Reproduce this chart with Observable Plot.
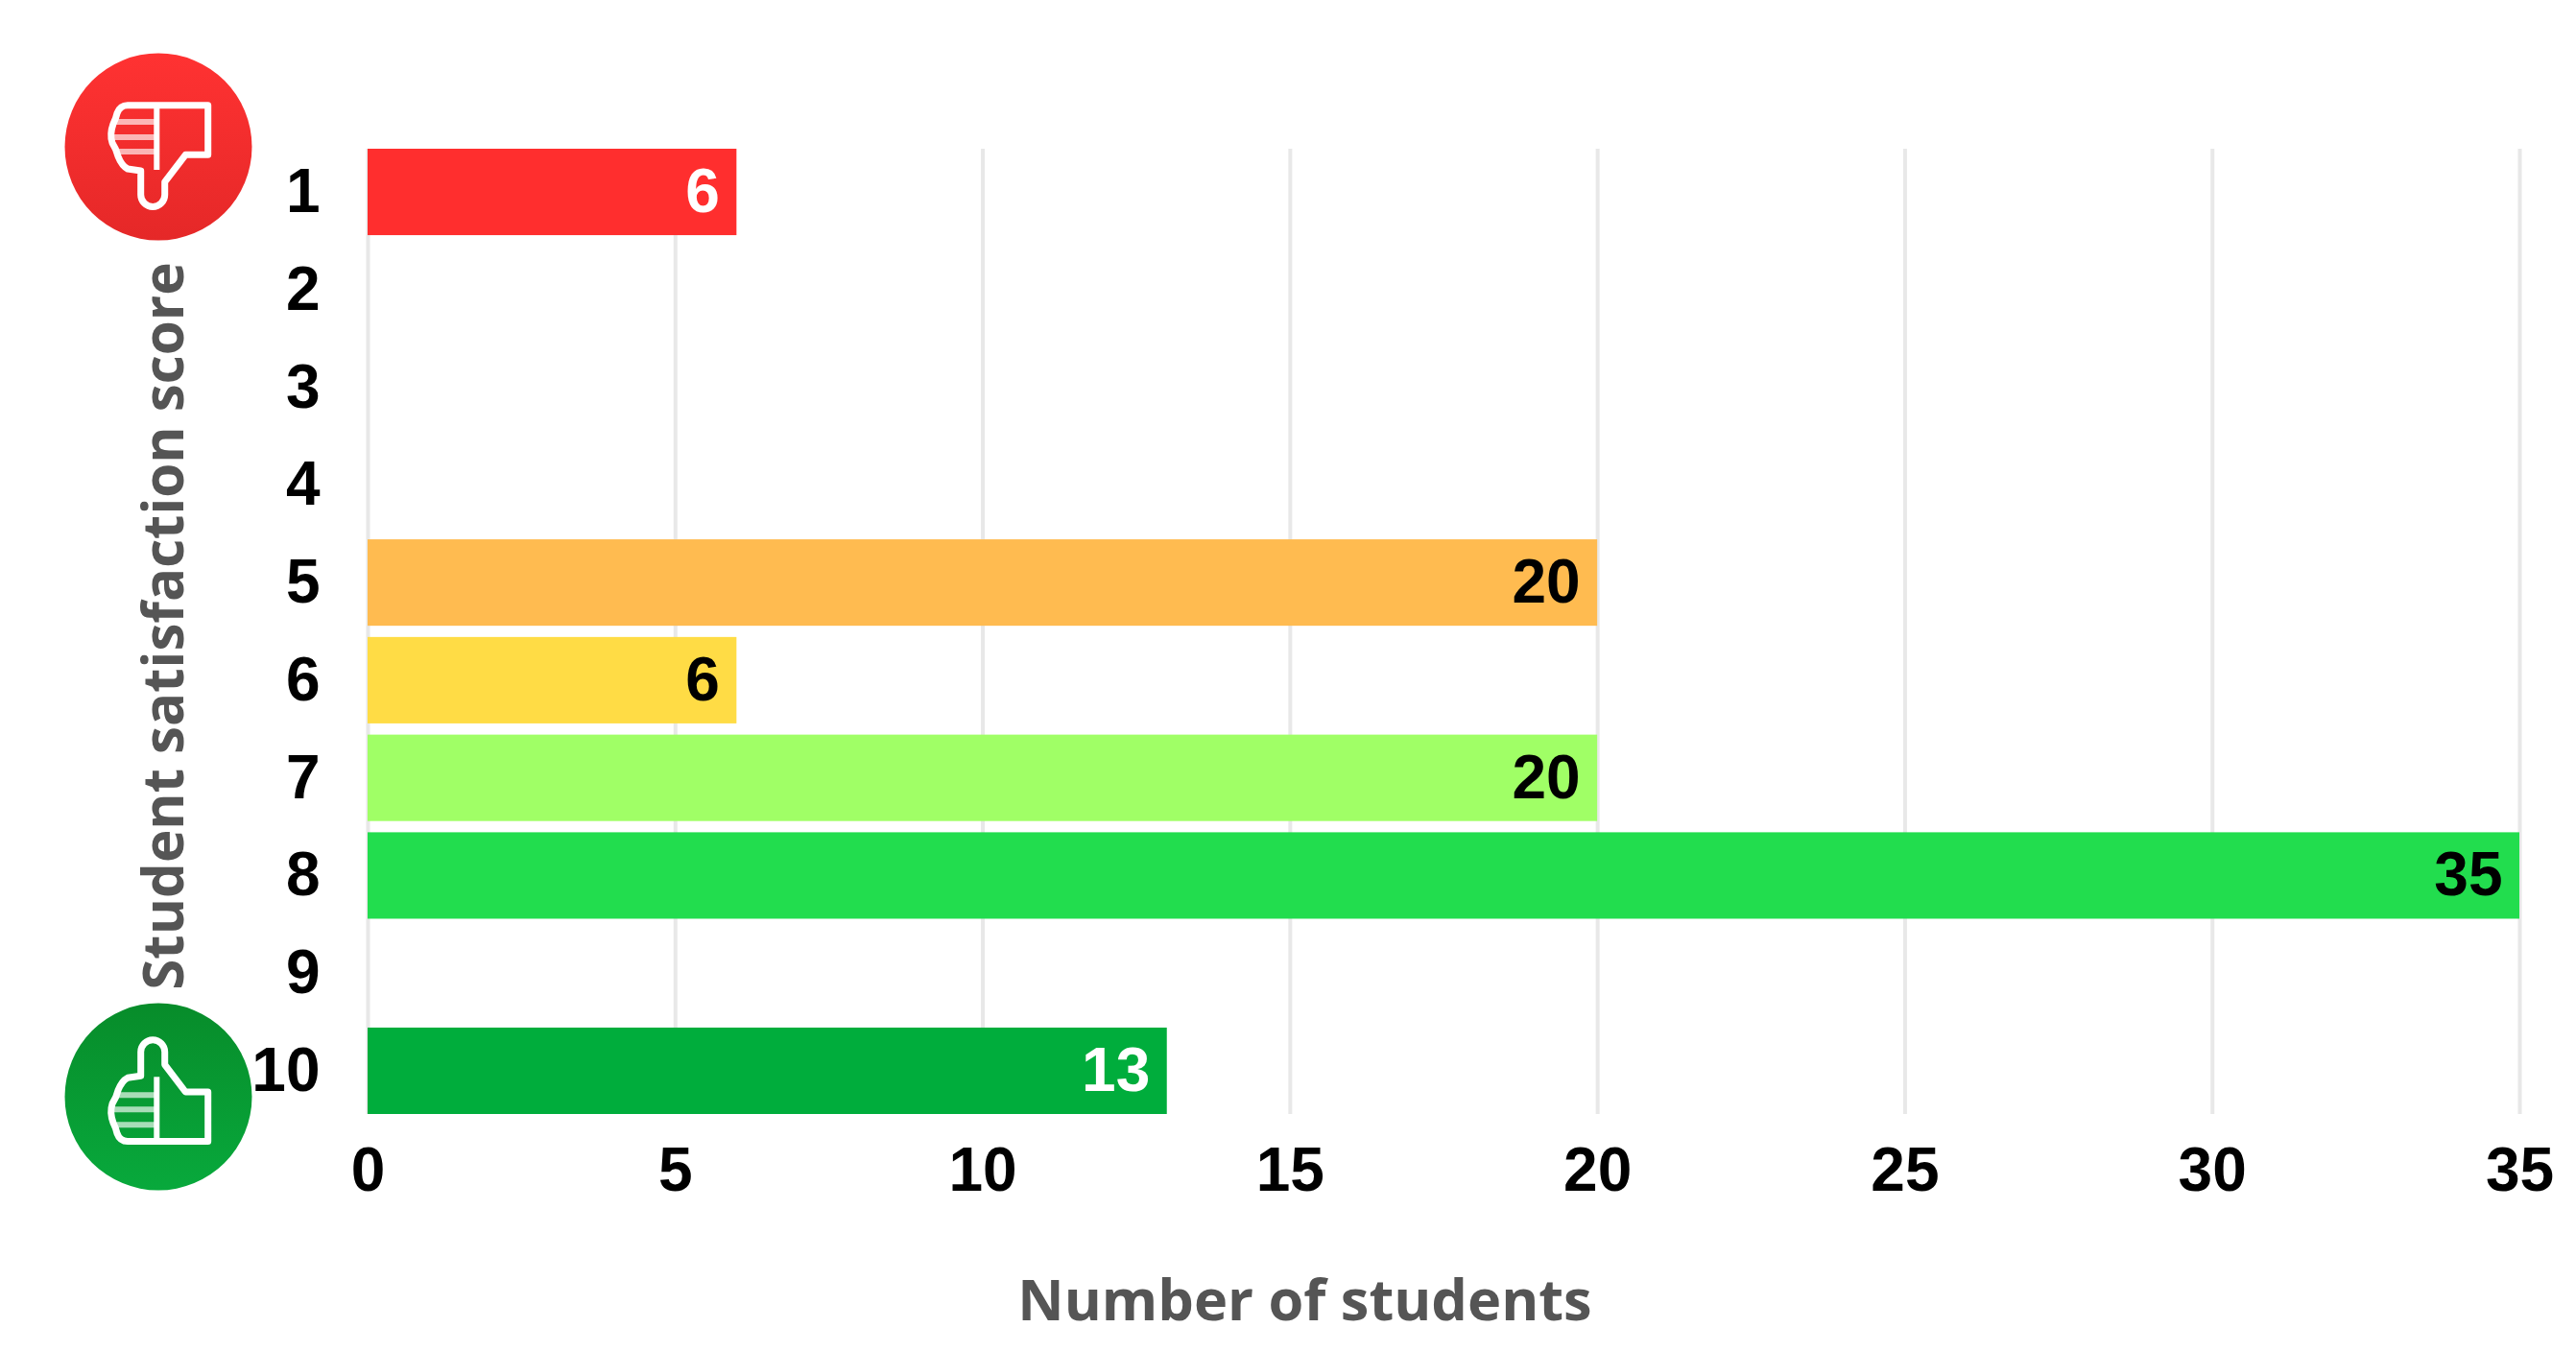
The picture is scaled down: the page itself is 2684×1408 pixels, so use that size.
<!DOCTYPE html>
<html>
<head>
<meta charset="utf-8">
<script src="https://cdn.jsdelivr.net/npm/d3@7"></script>
<script src="https://cdn.jsdelivr.net/npm/@observablehq/plot@0.6"></script>
<style>
html,body{margin:0;padding:0;background:#fff}
svg{display:block}
</style>
</head>
<body>
<div id="chart"></div>
<script>
const scores = ["1","2","3","4","5","6","7","8","9","10"];
const students = [6,0,0,0,20,6,20,35,0,13];
const barColors = ["#ff2e2e","#fff","#fff","#fff","#ffbb50","#ffdc45","#a0ff66","#22dd4e","#fff","#00ad3c"];
const valueColors = ["#fff","#000","#000","#000","#000","#000","#000","#000","#000","#fff"];
const xTicks = [0,5,10,15,20,25,30,35];
const xTitle = "Number of students";
const yTitle = "Student satisfaction score";

const rows = scores.map((score,i)=>({score,count:students[i],fill:barColors[i],text:valueColors[i]}));
const shown = rows.filter(d=>d.count>0);

const thumb = "M51.7,-43.3 L51.7,8.3 L28.3,8.3 L6.7,36.7 L6.7,50 A12.5,12.5 0 0 1 -18.3,50 L-18.3,25 L-32,23 Q-38,20 -42,10 Q-44,2 -48,-4 Q-51,-13 -47,-24 Q-44,-30 -43,-35 Q-40,-43.3 -32,-43.3 Z";
const icons = [
  {id:"gRed",cx:165,cy:153,top:"#ff3232",bottom:"#e52828",dy:0,flip:1},
  {id:"gGreen",cx:165,cy:1143,top:"#078c2a",bottom:"#08a93c",dy:3.3,flip:-1}
];
function iconMark(){
  const g = d3.create("svg:g");
  for(const ic of icons){
    const grad = g.append("linearGradient").attr("id",ic.id).attr("x1",0).attr("x2",0).attr("y1",0).attr("y2",1);
    grad.append("stop").attr("offset","0%").attr("stop-color",ic.top);
    grad.append("stop").attr("offset","100%").attr("stop-color",ic.bottom);
    g.append("circle").attr("cx",ic.cx).attr("cy",ic.cy).attr("r",97.5).attr("fill",`url(#${ic.id})`);
    const t = g.append("g").attr("transform",`translate(${ic.cx},${ic.cy+ic.dy}) scale(1,${ic.flip})`)
      .attr("fill","none").attr("stroke","#fff");
    t.append("path").attr("d",thumb).attr("stroke-width",7).attr("stroke-linejoin","round");
    t.append("path").attr("d","M-1.7,-43 L-1.7,24").attr("stroke-width",6);
    t.append("path").attr("d","M-44,-26 L-2,-26 M-47,-10 L-2,-10 M-44,5 L-2,5").attr("stroke-width",6).attr("stroke-opacity",0.65);
  }
  return g.node();
}

const plot = Plot.plot({
  width:2684,
  height:1408,
  marginTop:155,
  marginBottom:247,
  marginLeft:383,
  marginRight:59,
  style:{fontFamily:"'Liberation Sans',Arial,sans-serif",fontWeight:"bold",background:"#fff",overflow:"visible"},
  x:{domain:[0,35]},
  y:{domain:scores,paddingInner:0.115,paddingOuter:0,round:false},
  marks:[
    Plot.ruleX(xTicks,{stroke:"#e8e8e8",strokeWidth:4}),
    Plot.barX(shown,{x:"count",y:"score",fill:d=>d.fill}),
    Plot.text(shown,{x:"count",y:"score",text:d=>String(d.count),fill:d=>d.text,textAnchor:"end",dx:-18,dy:0,fontSize:64,fontWeight:"bold"}),
    Plot.axisX({ticks:xTicks,tickSize:0,tickPadding:34,label:null,fontSize:64,fontWeight:"bold",fill:"#000"}),
    Plot.axisY({tickSize:0,tickPadding:50,label:null,fontSize:64,fontWeight:"bold",fill:"#000"}),
    Plot.text([xTitle],{frameAnchor:"bottom",textAnchor:"middle",dx:-145,dy:214,fontSize:59.5,fontWeight:"bold",fontFamily:"'Open Sans',sans-serif",fill:"#555"}),
    Plot.text([yTitle],{frameAnchor:"left",textAnchor:"middle",rotate:-90,dx:-211,dy:-6,fontSize:58.3,fontWeight:"bold",fontFamily:"'Open Sans',sans-serif",fill:"#555"}),
    iconMark
  ]
});
document.getElementById("chart").append(plot);
</script>
</body>
</html>
